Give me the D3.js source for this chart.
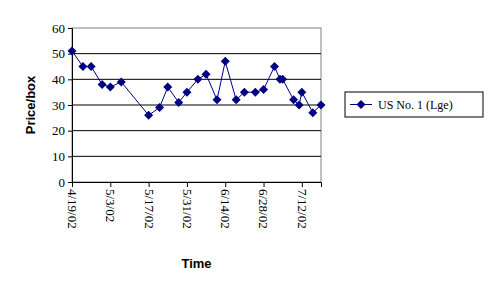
<!DOCTYPE html>
<html>
<head>
<meta charset="utf-8">
<script src="https://cdn.jsdelivr.net/npm/d3@7"></script>
<style>
  body { margin: 0; background: #fff; }
  .tick text { font-family: "Liberation Serif", "Times New Roman", serif; font-size: 13px; fill: #000; }
  .title { font-family: "Liberation Sans", Arial, sans-serif; font-size: 13px; font-weight: bold; }
</style>
</head>
<body>
<div id="chart"></div>
<script>
// sample dates (m/d/yyyy) and price per box
let dates = ["4/19/2002","4/23/2002","4/26/2002","4/30/2002","5/3/2002","5/7/2002",
    "5/17/2002","5/21/2002","5/24/2002","5/28/2002","5/31/2002","6/4/2002","6/7/2002",
    "6/11/2002","6/14/2002","6/18/2002","6/21/2002","6/25/2002","6/28/2002","7/2/2002",
    "7/4/2002","7/5/2002","7/9/2002","7/11/2002","7/12/2002","7/16/2002","7/19/2002"];
let prices = [51,45,45,38,37,39,26,29,37,31,35,40,42,32,47,32,35,35,36,45,40,40,32,30,35,27,30];
let tickDates = ["4/19/2002","5/3/2002","5/17/2002","5/31/2002","6/14/2002","6/28/2002","7/12/2002"];
let yTicks = [0,10,20,30,40,50,60];
let seriesName = "US No. 1 (Lge)";

let width = 492, height = 294;
let margin = {top: 28, left: 72, right: 171, bottom: 112};
let w = width - margin.left - margin.right;
let h = height - margin.top - margin.bottom;

let parse = d3.timeParse("%m/%d/%Y");
let fmt = d3.timeFormat("%-m/%-d/%y");
let data = dates.map((d, i) => ({date: parse(d), value: prices[i]}));

let x = d3.scaleTime()
    .domain([parse("4/19/2002"), parse("7/19/2002")])
    .range([0, w]);
let y = d3.scaleLinear().domain([0, 60]).range([h, 0]);

let svg = d3.select("#chart").append("svg")
    .attr("width", width)
    .attr("height", height);

let g = svg.append("g")
    .attr("transform", "translate(" + margin.left + "," + margin.top + ")");

// plot area border
g.append("rect")
    .attr("width", w).attr("height", h)
    .attr("fill", "none").attr("stroke", "#808080");

// gridlines
g.selectAll(".grid")
    .data(yTicks.filter(d => d > 0 && d < 60))
    .enter().append("line")
    .attr("class", "grid")
    .attr("x1", 0).attr("x2", w)
    .attr("y1", d => y(d)).attr("y2", d => y(d))
    .attr("stroke", "#000");

let yAxis = d3.axisLeft(y).tickValues(yTicks).tickSize(4).tickPadding(3);
g.append("g").call(yAxis)
    .call(s => s.select(".domain").attr("stroke", "#000"));

let xAxis = d3.axisBottom(x)
    .tickValues(tickDates.map(parse))
    .tickFormat(fmt)
    .tickSize(5);
let xg = g.append("g")
    .attr("transform", "translate(0," + h + ")")
    .call(xAxis);
xg.selectAll(".tick text")
    .attr("transform", "rotate(90)")
    .attr("text-anchor", "start")
    .attr("x", 7).attr("y", 0).attr("dy", "0.35em");

// line
let line = d3.line().x(d => x(d.date)).y(d => y(d.value));
g.append("path")
    .datum(data)
    .attr("fill", "none")
    .attr("stroke", "#000080")
    .attr("stroke-width", 1)
    .attr("d", line);

let diamond = "M0,-4.5L4.5,0L0,4.5L-4.5,0Z";
g.selectAll(".pt")
    .data(data)
    .enter().append("path")
    .attr("class", "pt")
    .attr("d", diamond)
    .attr("transform", d => "translate(" + x(d.date) + "," + y(d.value) + ")")
    .attr("fill", "#000080");

// axis titles
svg.append("text")
    .attr("class", "title")
    .attr("transform", "translate(35," + (margin.top + h / 2) + ") rotate(-90)")
    .attr("text-anchor", "middle")
    .text("Price/box");

svg.append("text")
    .attr("class", "title")
    .attr("x", margin.left + w / 2)
    .attr("y", 268)
    .attr("text-anchor", "middle")
    .text("Time");

// legend
let lg = svg.append("g").attr("transform", "translate(345,92)");
lg.append("rect")
    .attr("width", 138).attr("height", 25)
    .attr("fill", "#fff").attr("stroke", "#000");
lg.append("line")
    .attr("x1", 5).attr("x2", 27).attr("y1", 12.5).attr("y2", 12.5)
    .attr("stroke", "#000080");
lg.append("path")
    .attr("d", diamond)
    .attr("transform", "translate(16,12.5)")
    .attr("fill", "#000080");
lg.append("text")
    .attr("x", 33).attr("y", 12.5).attr("dy", "0.35em")
    .style("font-family", "Liberation Serif, Times New Roman, serif")
    .style("font-size", "12px")
    .text(seriesName);
</script>
</body>
</html>
